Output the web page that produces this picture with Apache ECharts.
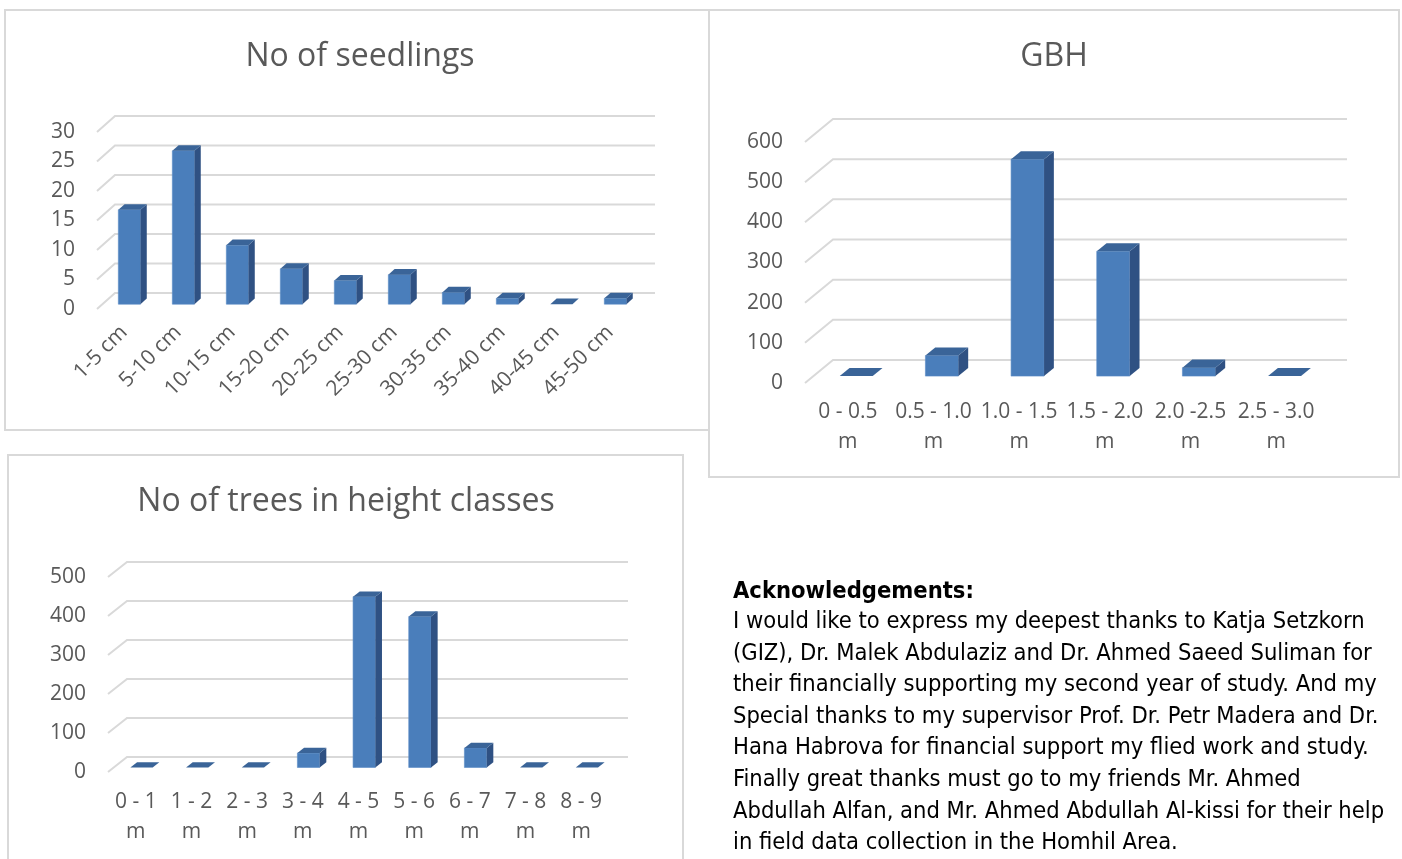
<!DOCTYPE html>
<html>
<head>
<meta charset="utf-8">
<title>Seedlings, GBH and height classes</title>
<script src="https://cdn.jsdelivr.net/npm/echarts@6/dist/echarts.min.js"></script>
<style>
  html, body { margin: 0; padding: 0; background: #fff; }
  #chart { position: absolute; left: 0; top: 0; width: 1402px; height: 859px; }
  .ack {
    position: absolute; left: 733px; top: 576px;
    font-family: "DejaVu Sans Condensed", "DejaVu Sans", sans-serif;
    font-stretch: condensed;
    font-size: 23.5px; color: #000; white-space: nowrap;
  }
  .ack b { display: block; line-height: 28px; margin-bottom: 1px; }
  .ack p { margin: 0; line-height: 31.6px; }
</style>
</head>
<body>
<div id="chart"></div>
<div class="ack">
  <b>Acknowledgements:</b>
  <p>I would like to express my deepest thanks to Katja Setzkorn<br>
  (GIZ), Dr. Malek Abdulaziz and Dr. Ahmed Saeed Suliman for<br>
  their financially supporting my second year of study. And my<br>
  Special thanks to my supervisor Prof. Dr. Petr Madera and Dr.<br>
  Hana Habrova for financial support my flied work and study.<br>
  Finally great thanks must go to my friends Mr. Ahmed<br>
  Abdullah Alfan, and Mr. Ahmed Abdullah Al-kissi for their help<br>
  in field data collection in the Homhil Area.</p>
</div>
<script>
// data
const seedCats = ['1-5 cm', '5-10 cm', '10-15 cm', '15-20 cm', '20-25 cm', '25-30 cm', '30-35 cm', '35-40 cm', '40-45 cm', '45-50 cm']
const seedCounts = [16, 26, 10, 6, 4, 5, 2, 1, 0, 1]
const seedTicks = [0, 5, 10, 15, 20, 25, 30]

const gbhCats = ['0 - 0.5 m', '0.5 - 1.0 m', '1.0 - 1.5 m', '1.5 - 2.0 m', '2.0 -2.5 m', '2.5 - 3.0 m']
const gbhCounts = [0, 51, 540, 311, 21, 0]
const gbhTicks = [0, 100, 200, 300, 400, 500, 600]

const heightCats = ['0 - 1 m', '1 - 2 m', '2 - 3 m', '3 - 4 m', '4 - 5 m', '5 - 6 m', '6 - 7 m', '7 - 8 m', '8 - 9 m']
const heightCounts = [0, 0, 0, 37, 438, 387, 50, 0, 0]
const heightTicks = [0, 100, 200, 300, 400, 500]

const GRID_LINE = '#d9d9d9'
const TXT = '#595959'
const FONT = 'Open Sans'
// bar sits between 30% and 65% of the floor depth
const F1 = 0.3, F2 = 0.65

let mycharts = echarts.init(document.getElementById('chart'))

// back wall lines + left diagonal for every tick
function wallItem(DX, DY) {
  return function (params, api) {
    const cs = params.coordSys
    const y = api.coord([0, api.value(1)])[1]
    return {
      type: 'polyline',
      silent: true,
      shape: { points: [[cs.x, y], [cs.x + DX, y - DY], [cs.x + cs.width + DX, y - DY]] },
      style: { stroke: GRID_LINE, lineWidth: 2, fill: null },
    }
  }
}

// pseudo 3d column
function barItem(DX, DY, wFrac) {
  return function (params, api) {
    const c = api.value(0)
    const v = api.value(1)
    const base = api.coord([c, 0])
    const top = api.coord([c, v])
    const bw = api.size([1, 0])[0] * wFrac
    const ox = F1 * DX, oy = F1 * DY
    const bx = (F2 - F1) * DX, by = (F2 - F1) * DY
    const xl = base[0] - bw / 2 + ox
    const xr = xl + bw
    const yb = base[1] - oy
    const yt = top[1] - oy
    const kids = []
    if (yb - yt > 0.5) {
      kids.push({
        type: 'rect',
        shape: { x: xl, y: yt, width: bw, height: yb - yt },
        style: { fill: '#4a7ebb', stroke: '#5a8cc6', lineWidth: 0.6 },
      })
      kids.push({
        type: 'polygon',
        shape: { points: [[xr, yt], [xr + bx, yt - by], [xr + bx, yb - by], [xr, yb]] },
        style: { fill: '#2f5183' },
      })
    }
    kids.push({
      type: 'polygon',
      shape: { points: [[xl, yt], [xr, yt], [xr + bx, yt - by], [xl + bx, yt - by]] },
      style: { fill: '#3a6498' },
    })
    return { type: 'group', children: kids }
  }
}

function yAx(gi, ticks) {
  return {
    gridIndex: gi,
    type: 'value',
    min: ticks[0],
    max: ticks[ticks.length - 1],
    interval: ticks[1] - ticks[0],
    axisLine: { show: false },
    axisTick: { show: false },
    splitLine: { show: false },
    axisLabel: { color: TXT, fontSize: 21, fontFamily: FONT, margin: 22 },
  }
}

function xAx(gi, cats, label) {
  return {
    gridIndex: gi,
    type: 'category',
    data: cats,
    axisLine: { show: false },
    axisTick: { show: false },
    splitLine: { show: false },
    axisLabel: Object.assign({ interval: 0, color: TXT, fontSize: 21, fontFamily: FONT }, label),
  }
}

const splitUnit = (s) => s.replace(/ m$/, '\nm')

const titleStyle = { color: TXT, fontSize: 32, fontWeight: 'normal', fontFamily: FONT }

mycharts.setOption({
  animation: false,
  graphic: [
    { type: 'rect', silent: true, shape: { x: 5, y: 10, width: 704, height: 420 }, style: { fill: null, stroke: GRID_LINE, lineWidth: 2 } },
    { type: 'rect', silent: true, shape: { x: 709, y: 10, width: 690, height: 467 }, style: { fill: null, stroke: GRID_LINE, lineWidth: 2 } },
    { type: 'rect', silent: true, shape: { x: 8, y: 455, width: 675, height: 420 }, style: { fill: null, stroke: GRID_LINE, lineWidth: 2 } },
  ],
  title: [
    { text: 'No of seedlings', left: 360, top: 41, padding: 0, textAlign: 'center', textStyle: titleStyle },
    { text: 'GBH', left: 1054, top: 41, padding: 0, textAlign: 'center', textStyle: titleStyle },
    { text: 'No of trees in height classes', left: 346, top: 486, padding: 0, textAlign: 'center', textStyle: titleStyle },
  ],
  grid: [
    { left: 97, top: 132, width: 540, height: 177 },
    { left: 805, top: 142, width: 514, height: 241 },
    { left: 108, top: 577, width: 501, height: 195 },
  ],
  xAxis: [
    xAx(0, seedCats, { rotate: 45, margin: 20 }),
    xAx(1, gbhCats, { margin: 14, lineHeight: 30, formatter: splitUnit }),
    xAx(2, heightCats, { margin: 15, lineHeight: 30, formatter: splitUnit }),
  ],
  yAxis: [yAx(0, seedTicks), yAx(1, gbhTicks), yAx(2, heightTicks)],
  series: [
    {
      type: 'custom', xAxisIndex: 0, yAxisIndex: 0,
      renderItem: wallItem(18, 16),
      data: seedTicks.map((t) => [0, t]),
      encode: { x: 0, y: 1 },
    },
    {
      type: 'custom', xAxisIndex: 0, yAxisIndex: 0,
      renderItem: barItem(18, 16, 0.41),
      data: seedCounts.map((v, i) => [i, v]),
      encode: { x: 0, y: 1 },
    },
    {
      type: 'custom', xAxisIndex: 1, yAxisIndex: 1,
      renderItem: wallItem(28, 23),
      data: gbhTicks.map((t) => [0, t]),
      encode: { x: 0, y: 1 },
    },
    {
      type: 'custom', xAxisIndex: 1, yAxisIndex: 1,
      renderItem: barItem(28, 23, 0.385),
      data: gbhCounts.map((v, i) => [i, v]),
      encode: { x: 0, y: 1 },
    },
    {
      type: 'custom', xAxisIndex: 2, yAxisIndex: 2,
      renderItem: wallItem(19, 15),
      data: heightTicks.map((t) => [0, t]),
      encode: { x: 0, y: 1 },
    },
    {
      type: 'custom', xAxisIndex: 2, yAxisIndex: 2,
      renderItem: barItem(19, 15, 0.4),
      data: heightCounts.map((v, i) => [i, v]),
      encode: { x: 0, y: 1 },
    },
  ],
})
</script>
</body>
</html>
